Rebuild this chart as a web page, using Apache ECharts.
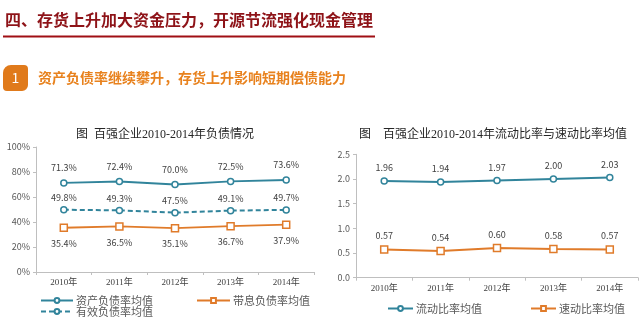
<!DOCTYPE html>
<html>
<head>
<meta charset="utf-8">
<script src="https://cdn.jsdelivr.net/npm/echarts@6/dist/echarts.min.js"></script>
<style>
  html, body { margin: 0; padding: 0; background: #ffffff; }
  #chart { width: 639px; height: 327px; }
</style>
</head>
<body>
<div id="chart"></div>
<script>
// Years shared by both panels
const years = ['2010年', '2011年', '2012年', '2013年', '2014年'];

// Left panel: debt ratios (%)
const assetLiabRatio = [71.3, 72.4, 70.0, 72.5, 73.6];
const effectiveDebtRatio = [49.8, 49.3, 47.5, 49.1, 49.7];
const interestDebtRatio = [35.4, 36.5, 35.1, 36.7, 37.9];
const leftTicks = [0, 20, 40, 60, 80, 100];

// Right panel: liquidity ratios
const currentRatio = [1.96, 1.94, 1.97, 2.00, 2.03];
const quickRatio = [0.57, 0.54, 0.60, 0.58, 0.57];
const rightTicks = [0, 0.5, 1.0, 1.5, 2.0, 2.5];

const TEAL = '#31849B';
const ORANGE = '#E07B2A';
const LABEL = '#404040';
const AXIS_TXT = '#595959';
const SANS = '"Noto Sans CJK SC", "Noto Sans", sans-serif';
const SERIF = '"Liberation Serif", "Noto Sans CJK SC", serif';

const chart = echarts.init(document.getElementById('chart'), null, { renderer: 'canvas' });

function catAxis(gridIndex) {
  return {
    type: 'category', gridIndex, data: years, boundaryGap: true,
    axisLine: { lineStyle: { color: '#bfbfbf', width: 1 } },
    axisTick: { show: true, length: 3, lineStyle: { color: '#bfbfbf' } },
    axisLabel: { color: '#404040', fontSize: 9, fontFamily: SERIF, margin: 6 }
  };
}

const legendText = { fontSize: 11, color: AXIS_TXT, fontFamily: SANS, padding: [0, 0, 0, -2] };

const option = {
  backgroundColor: '#ffffff',
  animation: false,
  title: [
    { text: '图  百强企业2010-2014年负债情况', left: 160, top: 124, textAlign: 'center',
      textStyle: { fontSize: 12, fontWeight: 'normal', color: '#262626', fontFamily: SERIF } },
    { text: '图    百强企业2010-2014年流动比率与速动比率均值', left: 488, top: 124, textAlign: 'center',
      textStyle: { fontSize: 12, fontWeight: 'normal', color: '#262626', fontFamily: SERIF } }
  ],
  grid: [
    { left: 36, top: 147, width: 278, height: 125, containLabel: false },
    { left: 356, top: 154.3, width: 282, height: 123.4, containLabel: false }
  ],
  xAxis: [catAxis(0), catAxis(1)],
  yAxis: [
    { type: 'value', gridIndex: 0, min: leftTicks[0], max: leftTicks[leftTicks.length - 1], interval: 20,
      splitLine: { show: false },
      axisLine: { show: true, lineStyle: { color: '#bfbfbf' } },
      axisTick: { show: true, length: 3, lineStyle: { color: '#bfbfbf' } },
      axisLabel: { color: AXIS_TXT, fontSize: 9, fontFamily: SANS, margin: 6, formatter: '{value}%' } },
    { type: 'value', gridIndex: 1, min: rightTicks[0], max: rightTicks[rightTicks.length - 1], interval: 0.5,
      splitLine: { show: false },
      axisLine: { show: true, lineStyle: { color: '#bfbfbf' } },
      axisTick: { show: true, length: 3, lineStyle: { color: '#bfbfbf' } },
      axisLabel: { color: AXIS_TXT, fontSize: 9, fontFamily: SANS, margin: 6,
        formatter: v => v.toFixed(1) } }
  ],
  legend: [
    { data: ['资产负债率均值', '有效负债率均值'], orient: 'vertical', left: 35, top: 290, itemGap: 0,
      itemWidth: 32, itemHeight: 6, textStyle: legendText },
    { data: ['带息负债率均值'], left: 191, top: 290,
      itemWidth: 33, itemHeight: 6, textStyle: legendText },
    { data: ['流动比率均值', '速动比率均值'], left: 382, top: 298, itemGap: 48,
      itemWidth: 25, itemHeight: 6, textStyle: legendText }
  ],
  series: [
    { name: '资产负债率均值', type: 'line', xAxisIndex: 0, yAxisIndex: 0, data: assetLiabRatio,
      symbol: 'circle', symbolSize: 6, color: TEAL,
      itemStyle: { color: '#ffffff', borderColor: TEAL, borderWidth: 1.5 },
      lineStyle: { color: TEAL, width: 2 },
      label: { show: true, position: 'top', distance: 7, fontSize: 9, color: LABEL, fontFamily: SANS,
        formatter: p => p.value.toFixed(1) + '%' } },
    { name: '有效负债率均值', type: 'line', xAxisIndex: 0, yAxisIndex: 0, data: effectiveDebtRatio,
      symbol: 'circle', symbolSize: 6, color: TEAL,
      itemStyle: { color: '#ffffff', borderColor: TEAL, borderWidth: 1.5 },
      lineStyle: { color: TEAL, width: 2, type: [5, 3] },
      label: { show: true, position: 'top', distance: 4, fontSize: 9, color: LABEL, fontFamily: SANS,
        formatter: p => p.value.toFixed(1) + '%' } },
    { name: '带息负债率均值', type: 'line', xAxisIndex: 0, yAxisIndex: 0, data: interestDebtRatio,
      symbol: 'rect', symbolSize: 7, color: ORANGE,
      itemStyle: { color: '#ffffff', borderColor: ORANGE, borderWidth: 1.5 },
      lineStyle: { color: ORANGE, width: 2 },
      label: { show: true, position: 'bottom', distance: 7, fontSize: 9, color: LABEL, fontFamily: SANS,
        formatter: p => p.value.toFixed(1) + '%' } },
    { name: '流动比率均值', type: 'line', xAxisIndex: 1, yAxisIndex: 1, data: currentRatio,
      symbol: 'circle', symbolSize: 6, color: TEAL,
      itemStyle: { color: '#ffffff', borderColor: TEAL, borderWidth: 1.5 },
      lineStyle: { color: TEAL, width: 2 },
      label: { show: true, position: 'top', distance: 5, fontSize: 9, color: LABEL, fontFamily: SANS,
        formatter: p => p.value.toFixed(2) } },
    { name: '速动比率均值', type: 'line', xAxisIndex: 1, yAxisIndex: 1, data: quickRatio,
      symbol: 'rect', symbolSize: 7, color: ORANGE,
      itemStyle: { color: '#ffffff', borderColor: ORANGE, borderWidth: 1.5 },
      lineStyle: { color: ORANGE, width: 2 },
      label: { show: true, position: 'top', distance: 5, fontSize: 9, color: LABEL, fontFamily: SANS,
        formatter: p => p.value.toFixed(2) } }
  ],
  graphic: [
    { type: 'text', left: 5, top: 12, style: {
        text: '四、存货上升加大资金压力，开源节流强化现金管理',
        fontSize: 16, fontWeight: 'bold', fill: '#8E1318', fontFamily: SANS } },
    { type: 'rect', shape: { x: 3, y: 35.5, width: 372, height: 2 }, style: { fill: '#A00F14' } },
    { type: 'rect', shape: { x: 3, y: 65, width: 25, height: 26, r: [8, 4, 6, 4] }, style: { fill: '#E07A1B' } },
    { type: 'text', x: 15.5, y: 78, style: { text: '1', fontSize: 14, fill: '#ffffff', fontFamily: SANS,
        align: 'center', verticalAlign: 'middle' } },
    { type: 'text', left: 38, top: 71, style: {
        text: '资产负债率继续攀升，存货上升影响短期偿债能力',
        fontSize: 14, fontWeight: 'bold', fill: '#E8821E', fontFamily: SANS } }
  ]
};

chart.setOption(option);
</script>
</body>
</html>
